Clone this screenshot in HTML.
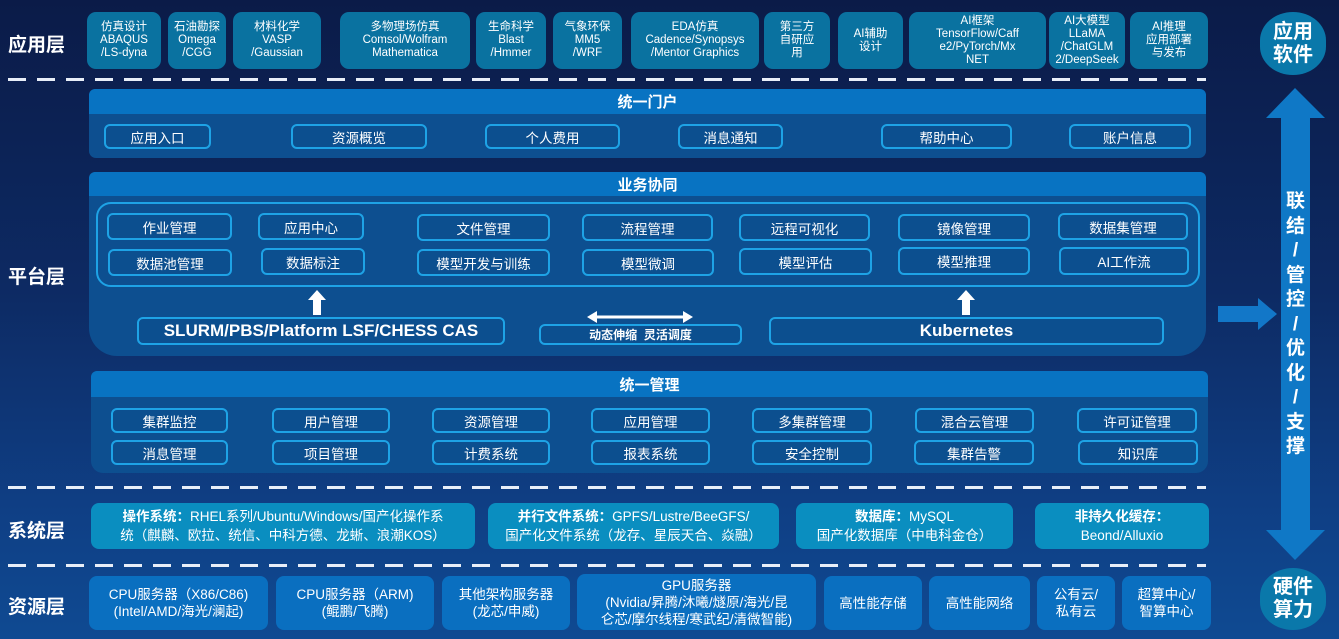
<!DOCTYPE html>
<html><head><meta charset="utf-8"><style>
*{margin:0;padding:0;box-sizing:border-box}
body{width:1339px;height:639px;overflow:hidden;position:relative;font-family:"Liberation Sans","Noto Sans CJK SC",sans-serif;color:#fff;
background:linear-gradient(180deg,#0b1b48 0%,#0d2a63 45%,#0f3f85 80%,#0f4a92 100%)}
.a{position:absolute;display:flex;align-items:center;justify-content:center;text-align:center}
.app{background:#0a72a0;border-radius:9px;font-size:11.5px;line-height:13px;top:12px;height:57px}
.lbl{font-size:19px;font-weight:bold;left:8px}
.dash{position:absolute;left:8px;width:1198px;height:3px;background:repeating-linear-gradient(90deg,#e8eef8 0 18px,transparent 18px 29px)}
.pan{position:absolute;background:#0d4f90;border-radius:7px}
.hd{position:absolute;background:#0873c2;font-size:15px;font-weight:bold;display:flex;align-items:center;justify-content:center;border-radius:6px 6px 0 0}
.b{border:2px solid #1ea3e6;border-radius:6px;font-size:13.5px;background:#0c4f8f}
.sys{background:#0a8ec0;border-radius:8px;font-size:13.5px;line-height:19px;top:503px;height:46px}
.res{background:#0a6fc0;border-radius:8px;font-size:13.5px;line-height:17px;top:576px;height:54px}
.pill{background:#0a78aa;border-radius:50%/45%;font-size:20px;font-weight:bold;line-height:23px;left:1260px;width:66px}
</style></head><body>
<div class="a lbl" style="top:30px">应用层</div>
<div class="a lbl" style="top:262px">平台层</div>
<div class="a lbl" style="top:516px">系统层</div>
<div class="a lbl" style="top:592px">资源层</div>

<div class="a app" style="left:87px;width:74px">仿真设计<br>ABAQUS<br>/LS-dyna</div>
<div class="a app" style="left:168px;width:58px">石油勘探<br>Omega<br>/CGG</div>
<div class="a app" style="left:233px;width:88px">材料化学<br>VASP<br>/Gaussian</div>
<div class="a app" style="left:340px;width:130px">多物理场仿真<br>Comsol/Wolfram<br>Mathematica</div>
<div class="a app" style="left:476px;width:70px">生命科学<br>Blast<br>/Hmmer</div>
<div class="a app" style="left:553px;width:69px">气象环保<br>MM5<br>/WRF</div>
<div class="a app" style="left:631px;width:128px">EDA仿真<br>Cadence/Synopsys<br>/Mentor Graphics</div>
<div class="a app" style="left:764px;width:66px">第三方<br>自研应<br>用</div>
<div class="a app" style="left:838px;width:65px">AI辅助<br>设计</div>
<div class="a app" style="left:909px;width:137px">AI框架<br>TensorFlow/Caff<br>e2/PyTorch/Mx<br>NET</div>
<div class="a app" style="left:1049px;width:76px">AI大模型<br>LLaMA<br>/ChatGLM<br>2/DeepSeek</div>
<div class="a app" style="left:1130px;width:78px">AI推理<br>应用部署<br>与发布</div>
<div class="a pill" style="top:12px;height:63px">应用<br>软件</div>

<div class="dash" style="top:78px"></div>
<div class="dash" style="top:486px"></div>
<div class="dash" style="top:564px"></div>

<div class="pan" style="left:89px;top:89px;width:1117px;height:69px"></div>
<div class="hd" style="left:89px;top:89px;width:1117px;height:25px">统一门户</div>
<div class="a b" style="left:104px;top:124px;width:107px;height:25px">应用入口</div>
<div class="a b" style="left:291px;top:124px;width:136px;height:25px">资源概览</div>
<div class="a b" style="left:485px;top:124px;width:135px;height:25px">个人费用</div>
<div class="a b" style="left:678px;top:124px;width:105px;height:25px">消息通知</div>
<div class="a b" style="left:881px;top:124px;width:131px;height:25px">帮助中心</div>
<div class="a b" style="left:1069px;top:124px;width:122px;height:25px">账户信息</div>

<div class="pan" style="left:89px;top:172px;width:1117px;height:184px;border-radius:7px 7px 28px 28px"></div>
<div class="hd" style="left:89px;top:172px;width:1117px;height:24px">业务协同</div>
<div style="position:absolute;left:96px;top:202px;width:1104px;height:85px;border:2px solid #1ea3e6;border-radius:15px"></div>
<div class="a b" style="left:107px;top:213px;width:125px;height:27px">作业管理</div>
<div class="a b" style="left:258px;top:213px;width:106px;height:27px">应用中心</div>
<div class="a b" style="left:417px;top:214px;width:133px;height:27px">文件管理</div>
<div class="a b" style="left:582px;top:214px;width:131px;height:27px">流程管理</div>
<div class="a b" style="left:739px;top:214px;width:131px;height:27px">远程可视化</div>
<div class="a b" style="left:898px;top:214px;width:132px;height:27px">镜像管理</div>
<div class="a b" style="left:1058px;top:213px;width:130px;height:27px">数据集管理</div>
<div class="a b" style="left:108px;top:249px;width:124px;height:27px">数据池管理</div>
<div class="a b" style="left:261px;top:248px;width:104px;height:27px">数据标注</div>
<div class="a b" style="left:417px;top:249px;width:133px;height:27px">模型开发与训练</div>
<div class="a b" style="left:582px;top:249px;width:132px;height:27px">模型微调</div>
<div class="a b" style="left:739px;top:248px;width:133px;height:27px">模型评估</div>
<div class="a b" style="left:898px;top:247px;width:132px;height:28px">模型推理</div>
<div class="a b" style="left:1059px;top:247px;width:130px;height:28px">AI工作流</div>
<svg style="position:absolute;left:0;top:0" width="1339" height="639">
<polygon points="317,290 326,300 321,300 321,315 313,315 313,300 308,300" fill="#fff"/>
<polygon points="966,290 975,300 970,300 970,315 962,315 962,300 957,300" fill="#fff"/>
<line x1="594" y1="317" x2="686" y2="317" stroke="#fff" stroke-width="3"/>
<polygon points="587,317 597,311 597,323" fill="#fff"/>
<polygon points="693,317 683,311 683,323" fill="#fff"/>
<rect x="1218" y="306" width="44" height="16" fill="#1277c8"/>
<polygon points="1258,298 1277,314 1258,330" fill="#1277c8"/>
<rect x="1281" y="112" width="29" height="420" fill="#0f78c6"/>
<polygon points="1295,88 1325,118 1266,118" fill="#0f78c6"/>
<polygon points="1295,560 1325,530 1266,530" fill="#0f78c6"/>
</svg>
<div class="a b" style="left:137px;top:317px;width:368px;height:28px;font-size:17px;font-weight:bold">SLURM/PBS/Platform LSF/CHESS CAS</div>
<div class="a b" style="left:539px;top:324px;width:203px;height:21px;font-size:12px;font-weight:bold">动态伸缩&nbsp;&nbsp;灵活调度</div>
<div class="a b" style="left:769px;top:317px;width:395px;height:28px;font-size:17px;font-weight:bold">Kubernetes</div>
<div class="a" style="left:1281px;top:190px;width:29px;font-size:19px;font-weight:bold;line-height:24.5px;flex-direction:column">联<br>结<br>/<br>管<br>控<br>/<br>优<br>化<br>/<br>支<br>撑</div>

<div class="pan" style="left:91px;top:371px;width:1117px;height:102px;border-radius:7px 7px 12px 12px"></div>
<div class="hd" style="left:91px;top:371px;width:1117px;height:26px">统一管理</div>
<div class="a b" style="left:111px;top:408px;width:117px;height:25px">集群监控</div>
<div class="a b" style="left:272px;top:408px;width:118px;height:25px">用户管理</div>
<div class="a b" style="left:432px;top:408px;width:118px;height:25px">资源管理</div>
<div class="a b" style="left:591px;top:408px;width:119px;height:25px">应用管理</div>
<div class="a b" style="left:752px;top:408px;width:120px;height:25px">多集群管理</div>
<div class="a b" style="left:915px;top:408px;width:119px;height:25px">混合云管理</div>
<div class="a b" style="left:1077px;top:408px;width:120px;height:25px">许可证管理</div>
<div class="a b" style="left:111px;top:440px;width:117px;height:25px">消息管理</div>
<div class="a b" style="left:272px;top:440px;width:118px;height:25px">项目管理</div>
<div class="a b" style="left:432px;top:440px;width:118px;height:25px">计费系统</div>
<div class="a b" style="left:591px;top:440px;width:119px;height:25px">报表系统</div>
<div class="a b" style="left:752px;top:440px;width:120px;height:25px">安全控制</div>
<div class="a b" style="left:914px;top:440px;width:120px;height:25px">集群告警</div>
<div class="a b" style="left:1078px;top:440px;width:120px;height:25px">知识库</div>

<div class="a sys" style="left:91px;width:384px"><span><b>操作系统：</b>RHEL系列/Ubuntu/Windows/国产化操作系<br>统（麒麟、欧拉、统信、中科方德、龙蜥、浪潮KOS）</span></div>
<div class="a sys" style="left:488px;width:291px"><span><b>并行文件系统：</b>GPFS/Lustre/BeeGFS/<br>国产化文件系统（龙存、星辰天合、焱融）</span></div>
<div class="a sys" style="left:796px;width:217px"><span><b>数据库：</b>MySQL<br>国产化数据库（中电科金仓）</span></div>
<div class="a sys" style="left:1035px;width:174px"><span><b>非持久化缓存：</b><br>Beond/Alluxio</span></div>

<div class="a res" style="left:89px;width:179px">CPU服务器（X86/C86)<br>(Intel/AMD/海光/澜起)</div>
<div class="a res" style="left:276px;width:158px">CPU服务器（ARM)<br>(鲲鹏/飞腾)</div>
<div class="a res" style="left:442px;width:128px">其他架构服务器<br>(龙芯/申威)</div>
<div class="a res" style="left:577px;width:239px;top:574px;height:56px">GPU服务器<br>(Nvidia/昇腾/沐曦/燧原/海光/昆<br>仑芯/摩尔线程/寒武纪/清微智能)</div>
<div class="a res" style="left:824px;width:98px">高性能存储</div>
<div class="a res" style="left:929px;width:101px">高性能网络</div>
<div class="a res" style="left:1037px;width:78px">公有云/<br>私有云</div>
<div class="a res" style="left:1122px;width:89px">超算中心/<br>智算中心</div>
<div class="a pill" style="top:568px;height:62px">硬件<br>算力</div>
</body></html>
